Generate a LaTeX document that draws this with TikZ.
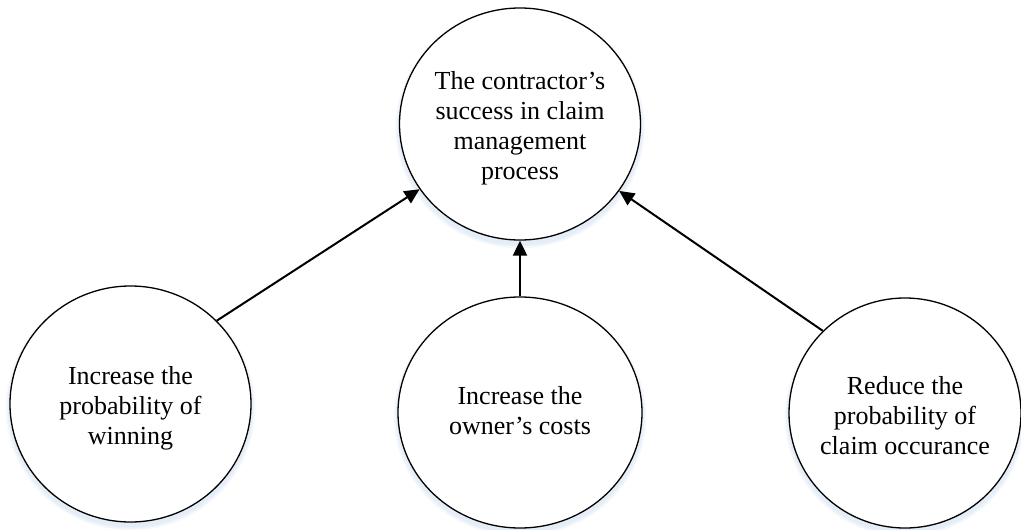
\documentclass[tikz,border=0pt]{standalone}
\usepackage{fontspec}
\setmainfont{Liberation Serif}
\usetikzlibrary{arrows.meta,shapes.geometric}

\definecolor{haze}{RGB}{170,195,230}

\tikzset{
  bubble/.style={ellipse, draw=black, line width=1.3pt, fill=white, inner sep=0pt},
  caption/.style={align=center, font=\fontsize{26}{30}\selectfont, inner sep=0pt},
  link/.style={line width=2pt, -{Triangle[length=15pt,width=14pt]}},
}

\begin{document}
\begin{tikzpicture}[x=1pt, y=-1pt]
  \useasboundingbox (0,0) rectangle (1021,530);

  % soft shadow under each circle
  \foreach \cx/\cy/\rx/\ry in {520/124/120.5/116, 130.5/404/120.5/118,
                               520/412.5/122/115.5, 905/413/116/115} {
    \foreach \k in {1,...,5} {
      \fill[haze, opacity=0.07] (\cx,\cy+4) ellipse [x radius=\rx+\k*0.9, y radius=\ry+\k*0.9];
    }
  }

  % circles
  \node[bubble, minimum width=241pt, minimum height=232pt] (goal) at (520,124) {};
  \node[bubble, minimum width=241pt, minimum height=236pt] (win)  at (130.5,404) {};
  \node[bubble, minimum width=244pt, minimum height=231pt] (cost) at (520,412.5) {};
  \node[bubble, minimum width=232pt, minimum height=230pt] (risk) at (905,413) {};

  % texts
  \node[caption] (goal-text) at ([yshift=-4pt]goal.center) {The contractor’s\\success in claim\\management\\process};
  \node[caption] (win-text)  at ([yshift=-4pt]win.center)  {Increase the\\probability of\\winning};
  \node[caption] (cost-text) at ([yshift=2pt]cost.center) {Increase the\\owner’s costs};
  \node[caption] (risk-text) at ([yshift=-3pt]risk.center) {Reduce the\\probability of\\claim occurance};

  % connectors
  \draw[link] (win.44)    -- (goal.213);
  \draw[link] (cost.north) -- (goal.south);
  \draw[link] (risk.135)  -- (goal.326);
\end{tikzpicture}
\end{document}
